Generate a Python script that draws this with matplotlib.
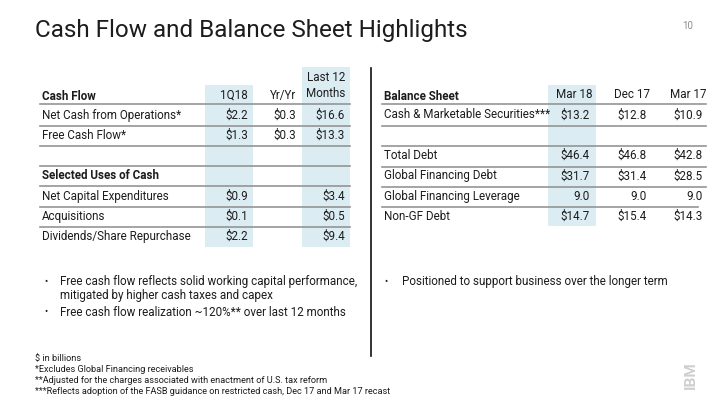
import matplotlib
matplotlib.use("Agg")
import matplotlib.pyplot as plt
from matplotlib.patches import Rectangle

plt.rcParams['font.family'] = ['Roboto', 'DejaVu Sans']

title = "Cash Flow and Balance Sheet Highlights"
page_no = "10"

# Cash flow table
cf_header = "Cash Flow"
cf_cols = ["1Q18", "Yr/Yr", "Last 12\nMonths"]
cf_rows = ["Net Cash from Operations*", "Free Cash Flow*", "", "Selected Uses of Cash",
           "Net Capital Expenditures", "Acquisitions", "Dividends/Share Repurchase"]
cf_bold = [False, False, False, True, False, False, False]
cf_1q18 = [2.2, 1.3, None, None, 0.9, 0.1, 2.2]
cf_yryr = [0.3, 0.3, None, None, None, None, None]
cf_ltm = [16.6, 13.3, None, None, 3.4, 0.5, 9.4]

# Balance sheet table
bs_header = "Balance Sheet"
bs_cols = ["Mar 18", "Dec 17", "Mar 17"]
bs_rows = ["Cash & Marketable Securities***", "", "Total Debt", "Global Financing Debt",
           "Global Financing Leverage", "Non-GF Debt"]
bs_mar18 = [13.2, None, 46.4, 31.7, 9.0, 14.7]
bs_dec17 = [12.8, None, 46.8, 31.4, 9.0, 15.4]
bs_mar17 = [10.9, None, 42.8, 28.5, 9.0, 14.3]
bs_dollar = [True, True, True, True, False, True]

left_bullets = ["Free cash flow reflects solid working capital performance,\nmitigated by higher cash taxes and capex",
                "Free cash flow realization ~120%** over last 12 months"]
right_bullets = ["Positioned to support business over the longer term"]
footnotes = ["$ in billions", "*Excludes Global Financing receivables",
             "**Adjusted for the charges associated with enactment of U.S. tax reform",
             "***Reflects adoption of the FASB guidance on restricted cash, Dec 17 and Mar 17 recast"]

TXT = "#1c1c1c"
SHADE = "#dbedf3"
LINE = "#959595"
FS = 8.35

fig = plt.figure(figsize=(7.2, 4.05), dpi=100)
ax = fig.add_axes([0, 0, 1, 1])
ax.set_xlim(0, 720)
ax.set_ylim(405, 0)
ax.axis('off')

ax.text(35, 31, title, fontsize=17.5, color=TXT, va='center', ha='left')
ax.text(693, 26, page_no, fontsize=7, color="#8c8c8c", va='center', ha='right')

def fmt(v, dollar=True):
    if v is None:
        return ""
    return ("$%.1f" % v) if dollar else ("%.1f" % v)

row_y0 = 115
step = 20.3

# ---- Cash Flow table ----
ax.add_patch(Rectangle((205, 85), 48, 162, color=SHADE, lw=0, zorder=0))
ax.add_patch(Rectangle((302, 67), 48, 180, color=SHADE, lw=0, zorder=0))
ax.text(42, 97, cf_header, fontsize=FS, fontweight='bold', color=TXT, va='center')
cf_xr = [248, 296, 345]
ax.text(cf_xr[0], 95, cf_cols[0], fontsize=FS, color=TXT, va='center', ha='right')
ax.text(cf_xr[1], 96, cf_cols[1], fontsize=FS, color=TXT, va='center', ha='right')
ax.text(cf_xr[2], 85.5, cf_cols[2], fontsize=FS, color=TXT, va='center', ha='right', linespacing=1.35)
ax.plot([40, 350], [103.5, 103.5], color=LINE, lw=1.2, zorder=1)
for i, name in enumerate(cf_rows):
    y = row_y0 + step * i
    if i < len(cf_rows) - 1:
        ax.plot([40, 350], [y + 10.5, y + 10.5], color=LINE, lw=1.2, zorder=1)
    ax.text(42, y, name, fontsize=FS, color=TXT, va='center',
            fontweight='bold' if cf_bold[i] else 'normal')
    for xr, col in zip(cf_xr, [cf_1q18, cf_yryr, cf_ltm]):
        ax.text(xr, y, fmt(col[i]), fontsize=FS, color=TXT, va='center', ha='right')

# ---- Balance Sheet table ----
ax.add_patch(Rectangle((548, 85), 48, 141, color=SHADE, lw=0, zorder=0))
ax.text(384, 97, bs_header, fontsize=FS, fontweight='bold', color=TXT, va='center')
bs_hx = [593, 650, 706]
bs_xr = [590, 647, 703]
for xr, lab in zip(bs_hx, bs_cols):
    ax.text(xr, 95, lab, fontsize=FS, color=TXT, va='center', ha='right')
ax.plot([382, 706], [103.5, 103.5], color=LINE, lw=1.2, zorder=1)
for i, name in enumerate(bs_rows):
    y = row_y0 + step * i
    if i < len(bs_rows) - 1:
        ax.plot([382, 706 if i < len(bs_rows) - 2 else 698], [y + 11, y + 11],
                color=LINE, lw=1.2, zorder=1)
    ax.text(384, y, name, fontsize=FS, color=TXT, va='center')
    for xr, col in zip(bs_xr, [bs_mar18, bs_dec17, bs_mar17]):
        ax.text(xr, y, fmt(col[i], bs_dollar[i]), fontsize=FS, color=TXT, va='center', ha='right')

# vertical divider
ax.plot([371, 371], [68, 356], color="#111111", lw=1.2)

# bullets
by = [281.5, 312.5]
for yb, t in zip(by, left_bullets):
    ax.text(46, yb, "•", fontsize=FS - 1.5, color=TXT, va='center', ha='center')
    ax.text(60.5, yb - 6.5, t, fontsize=FS, color=TXT, va='top', linespacing=1.15)
for t in right_bullets:
    ax.text(386, 281.5, "•", fontsize=FS - 1.5, color=TXT, va='center', ha='center')
    ax.text(402, 275, t, fontsize=FS, color=TXT, va='top')

for i, t in enumerate(footnotes):
    ax.text(35, 359 + 10.7 * i, t, fontsize=6.6, color=TXT, va='center')

ax.text(691, 375, "IBM", fontsize=11, fontweight='bold', color="#cfcfcf",
        rotation=90, va='center', ha='center')

fig.savefig("out.png", dpi=100)
